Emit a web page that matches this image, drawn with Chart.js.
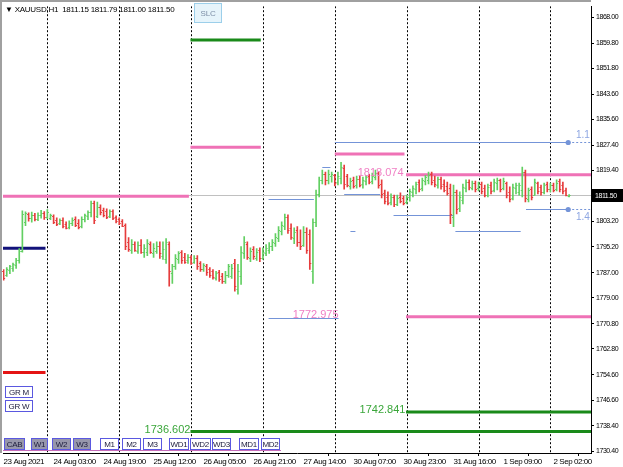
<!DOCTYPE html>
<html>
<head>
<meta charset="utf-8">
<script src="https://cdn.jsdelivr.net/npm/chart.js@4.4.1/dist/chart.umd.min.js"></script>
<style>
html, body { margin: 0; padding: 0; background: #fff; }
#wrap { width: 623px; height: 467px; }
</style>
</head>
<body>
<div id="wrap"><canvas id="chart" width="623" height="467"></canvas></div>
<script>
// XAUUSD H1 bars, 23 Aug 10:00 .. 2 Sep 07:00
const opens = [
  1787.4,1786.4,1787.8,1788.6,1789.5,1791.0,1794.0,1803.0,1805.6,1804.2,
  1805.4,1804.0,1805.2,1806.0,1804.6,1804.4,1805.0,1803.8,1802.8,1803.8,
  1802.5,1801.6,1802.8,1804.1,1802.8,1801.9,1804.1,1805.0,1806.3,1809.1,
  1805.0,1807.9,1806.9,1806.6,1805.0,1806.6,1804.7,1804.1,1803.4,1802.2,
  1796.8,1794.3,1796.2,1794.0,1795.9,1793.4,1793.7,1796.2,1793.1,1794.0,
  1795.6,1792.4,1791.2,1796.2,1786.8,1789.0,1791.2,1793.4,1792.1,1790.9,
  1792.1,1790.5,1791.8,1789.9,1788.0,1789.0,1788.0,1787.4,1785.2,1787.1,
  1785.8,1784.2,1786.4,1785.8,1789.9,1781.7,1785.8,1793.1,1796.2,1791.8,
  1794.6,1791.8,1794.3,1791.8,1793.1,1794.3,1795.3,1796.5,1798.1,1800.3,
  1801.9,1804.7,1801.2,1798.1,1800.6,1796.8,1795.9,1800.0,1799.4,1787.4,
  1803.1,1812.0,1816.4,1818.2,1816.4,1817.6,1817.9,1815.7,1817.0,1820.1,
  1817.6,1814.5,1816.4,1814.8,1816.7,1815.1,1816.0,1817.6,1816.0,1817.3,
  1818.6,1815.1,1812.3,1811.0,1809.4,1811.0,1808.8,1811.0,1810.7,1809.4,
  1811.0,1812.6,1813.5,1815.7,1813.8,1816.0,1816.4,1818.2,1816.4,1814.8,
  1816.7,1815.1,1814.5,1813.8,1804.7,1812.6,1807.5,1810.1,1813.8,1815.7,
  1813.8,1815.4,1813.8,1815.1,1813.8,1811.6,1814.8,1813.2,1815.4,1816.4,
  1813.8,1815.4,1812.6,1810.7,1813.8,1812.6,1813.2,1818.9,1810.4,1813.5,
  1811.6,1815.4,1814.2,1812.6,1815.1,1813.5,1814.8,1813.5,1816.0,1814.8,
  1813.2,1811.15
];
const highs = [
  1788.0,1788.6,1789.3,1790.0,1791.5,1794.6,1806.6,1806.3,1806.0,1806.2,
  1805.8,1806.0,1806.8,1806.4,1807.0,1805.6,1805.3,1804.4,1804.1,1804.4,
  1803.1,1803.4,1804.4,1804.7,1803.8,1804.7,1805.6,1806.6,1809.7,1809.7,
  1809.4,1808.5,1807.5,1807.2,1806.9,1806.9,1805.0,1804.4,1803.8,1802.5,
  1798.1,1797.5,1796.8,1796.8,1797.5,1795.9,1797.5,1796.8,1796.2,1796.8,
  1796.8,1796.8,1797.8,1796.8,1789.6,1792.7,1793.7,1794.0,1793.1,1792.7,
  1792.4,1792.4,1792.4,1790.5,1789.9,1789.6,1788.6,1788.0,1787.4,1787.7,
  1786.8,1787.4,1789.6,1789.6,1791.2,1789.6,1795.3,1798.4,1796.8,1794.9,
  1795.3,1794.6,1794.9,1794.9,1795.9,1796.5,1797.5,1799.4,1801.6,1803.1,
  1805.6,1805.3,1802.5,1801.2,1801.6,1800.6,1801.6,1801.2,1800.6,1804.1,
  1813.2,1817.3,1819.5,1818.9,1819.5,1818.9,1818.2,1818.9,1822.0,1821.1,
  1818.2,1817.0,1817.3,1817.6,1817.6,1817.3,1817.9,1818.2,1818.6,1819.5,
  1818.9,1816.4,1813.2,1812.6,1812.0,1811.6,1811.6,1812.3,1811.3,1811.6,
  1813.5,1814.5,1815.7,1816.4,1817.0,1817.9,1818.9,1818.9,1817.6,1817.3,
  1817.3,1816.4,1815.7,1815.1,1814.8,1813.2,1812.6,1815.1,1816.4,1816.4,
  1816.0,1816.0,1815.7,1815.7,1814.8,1815.1,1815.7,1816.7,1817.0,1816.7,
  1817.0,1815.7,1814.2,1815.1,1815.4,1815.4,1820.5,1819.5,1813.8,1814.2,
  1816.7,1815.7,1814.8,1815.4,1815.7,1815.4,1815.4,1816.4,1816.7,1815.7,
  1813.8,1811.79
];
const lows = [
  1784.6,1785.8,1786.7,1787.4,1788.3,1790.0,1793.5,1801.9,1803.3,1803.0,
  1803.4,1803.5,1804.3,1803.9,1804.0,1803.8,1802.5,1801.9,1802.2,1801.2,
  1800.9,1800.9,1801.9,1801.6,1800.9,1801.2,1803.1,1803.8,1804.7,1802.5,
  1804.4,1805.3,1804.7,1804.1,1804.4,1803.8,1802.8,1802.2,1801.6,1794.3,
  1793.7,1793.1,1793.7,1793.1,1793.1,1791.8,1792.4,1793.1,1791.8,1793.1,
  1791.5,1791.2,1789.9,1782.7,1783.6,1788.0,1789.9,1789.9,1789.9,1789.9,
  1789.6,1789.9,1788.0,1787.4,1787.4,1786.1,1785.5,1784.9,1784.6,1784.2,
  1783.6,1783.6,1785.5,1785.2,1781.1,1780.2,1783.3,1791.5,1791.2,1790.5,
  1791.2,1790.9,1790.5,1791.2,1792.4,1793.1,1794.0,1795.3,1796.8,1799.0,
  1800.6,1799.4,1797.5,1796.2,1795.3,1794.3,1795.3,1793.1,1788.0,1783.6,
  1801.6,1811.0,1815.1,1814.8,1815.1,1815.7,1814.5,1814.8,1815.1,1813.5,
  1814.2,1813.5,1813.8,1813.8,1814.2,1813.8,1814.8,1815.1,1815.1,1816.4,
  1813.8,1810.7,1808.8,1808.5,1808.5,1807.9,1808.2,1809.1,1808.5,1808.8,
  1809.7,1811.0,1812.0,1812.6,1812.9,1814.8,1815.1,1814.8,1814.2,1813.8,
  1813.5,1812.6,1811.6,1802.5,1801.6,1805.6,1806.3,1808.8,1812.6,1813.2,
  1813.2,1812.6,1812.9,1812.0,1811.0,1811.0,1812.0,1812.6,1813.2,1812.6,
  1813.2,1810.7,1809.4,1810.1,1812.0,1811.6,1811.0,1809.4,1809.4,1810.1,
  1811.6,1812.0,1811.6,1812.0,1812.6,1812.6,1812.6,1812.9,1812.6,1812.0,
  1811.3,1811.00
];
const closes = [
  1785.2,1788.0,1789.0,1789.6,1791.0,1794.0,1805.5,1805.8,1804.2,1805.4,
  1804.0,1805.2,1806.0,1804.6,1806.3,1805.3,1803.1,1802.5,1803.8,1801.9,
  1801.2,1802.8,1803.8,1802.2,1801.6,1804.1,1805.3,1806.3,1809.1,1803.8,
  1807.9,1806.3,1805.3,1804.7,1806.6,1804.4,1803.4,1802.8,1801.9,1795.3,
  1794.6,1796.2,1794.3,1795.9,1793.7,1794.9,1796.5,1793.7,1794.9,1795.6,
  1793.1,1794.6,1796.8,1787.4,1789.0,1791.8,1793.1,1790.9,1790.5,1792.1,
  1790.2,1791.8,1789.0,1788.0,1789.3,1787.1,1786.1,1785.5,1786.8,1784.9,
  1784.2,1786.4,1789.0,1788.6,1782.7,1787.4,1793.7,1796.8,1792.1,1794.0,
  1792.4,1793.7,1791.8,1793.4,1794.9,1795.6,1796.8,1798.4,1800.6,1802.2,
  1804.7,1800.6,1798.4,1800.0,1796.8,1795.3,1800.0,1794.3,1789.9,1803.1,
  1812.0,1816.4,1818.2,1816.4,1818.2,1818.2,1815.4,1817.6,1820.5,1815.1,
  1814.8,1816.0,1814.5,1816.7,1814.8,1816.4,1817.3,1815.7,1817.6,1818.6,
  1814.8,1812.0,1809.7,1809.1,1811.0,1808.8,1810.7,1809.7,1809.1,1811.0,
  1812.9,1813.8,1815.1,1813.5,1816.4,1817.3,1817.9,1815.7,1815.1,1816.7,
  1814.5,1813.2,1812.3,1805.6,1812.6,1807.2,1811.0,1814.2,1815.7,1814.2,
  1815.4,1813.5,1815.1,1812.9,1811.6,1814.2,1812.9,1815.7,1816.4,1813.5,
  1816.0,1811.6,1810.4,1814.2,1814.8,1814.8,1818.9,1810.7,1813.2,1811.0,
  1815.7,1812.9,1812.6,1814.8,1813.5,1814.8,1813.2,1815.4,1813.5,1812.9,
  1811.6,1811.50
];

const xTickIndex = [0, 16, 32, 48, 64, 80, 96, 112, 128, 144, 160, 176];
const xTickLabels = ['23 Aug 2021', '24 Aug 03:00', '24 Aug 19:00', '25 Aug 12:00', '26 Aug 05:00',
  '26 Aug 21:00', '27 Aug 14:00', '30 Aug 07:00', '30 Aug 23:00', '31 Aug 16:00', '1 Sep 09:00', '2 Sep 02:00'];
const yTickValues = [1868.00, 1859.80, 1851.80, 1843.60, 1835.60, 1827.40, 1819.40, 1803.20,
  1795.20, 1787.00, 1779.00, 1770.80, 1762.80, 1754.60, 1746.60, 1738.40, 1730.40];
const daySeparators = [14, 37, 60, 83, 106, 129, 152, 175];
const lastPrice = 1811.50;

// horizontal levels: [price, fromBar, toBar, kind]
const levels = [
  [1811.2, -1, 59.3, 'pink'],
  [1794.7, -1, 13.4, 'navy'],
  [1755.3, -1, 13.4, 'red'],
  [1860.8, 59.8, 82.3, 'green'],
  [1826.8, 59.8, 82.3, 'pink'],
  [1824.6, 106.0, 128.3, 'pink'],
  [1818.074, 128.8, 188, 'pink'],
  [1772.975, 128.8, 188, 'pink'],
  [1742.841, 128.8, 188, 'green'],
  [1736.602, 59.8, 188, 'green']
];
// thin blue lines: [price, fromBar, toBar, hasDot]
const blueLines = [
  [1828.3, 106.0, 180.7, true],
  [1807.2, 167.2, 180.7, true],
  [1810.4, 84.8, 99.3, false],
  [1772.7, 84.8, 107.2, false],
  [1805.3, 124.8, 143.8, false],
  [1800.3, 144.6, 165.5, false],
  [1820.5, 102.0, 104.6, false],
  [1800.3, 111.0, 112.6, false],
  [1812.0, 109.0, 120.5, false]
];
const blueLabels = [['1.1', 1828.3, -4], ['1.4', 1807.2, 11]];
// level price labels: [text, price, rightBar, kind]
const levelLabels = [
  ['1818.074', 1818.074, 128.0, 'pink'],
  ['1772.975', 1772.975, 107.2, 'pink'],
  ['1736.602', 1736.602, 59.8, 'green'],
  ['1742.841', 1742.841, 128.6, 'green']
];

const UP = '#62cf62', DOWN = '#e63c3c';
const levelColors = { pink: '#ef72b6', navy: '#12127a', red: '#e41414', green: '#1a8a1a' };
const labelColors = { pink: '#f07ec4', green: '#3aa63a' };
const BLUE = '#7494d8';
const SANS = "'Liberation Sans', Arial, sans-serif";

const bars = highs.map((h, i) => ({ x: i, y: [lows[i], h] }));

const mtPlugin = {
  id: 'mt',
  beforeDraw(chart) {
    // MT4 terminal text is tight; squeeze the axis labels a little
    chart.ctx.letterSpacing = '-0.45px';
  },
  beforeDatasetsDraw(chart) {
    const { ctx, chartArea: a, scales: { x, y } } = chart;
    ctx.save();
    ctx.beginPath();
    ctx.rect(a.left, a.top, a.right - a.left, a.bottom - a.top);
    ctx.clip();
    // day separators
    ctx.strokeStyle = '#000';
    ctx.lineWidth = 1;
    ctx.setLineDash([2, 2]);
    daySeparators.forEach(d => {
      const px = Math.round(x.getPixelForValue(d)) + 0.5;
      ctx.beginPath(); ctx.moveTo(px, a.top); ctx.lineTo(px, a.bottom); ctx.stroke();
    });
    ctx.setLineDash([]);
    // last price line
    const py = Math.round(y.getPixelForValue(lastPrice)) + 0.5;
    ctx.strokeStyle = '#c0c0c0';
    ctx.beginPath(); ctx.moveTo(a.left, py); ctx.lineTo(a.right, py); ctx.stroke();
    // levels
    levels.forEach(([p, f, t, k]) => {
      const yy = y.getPixelForValue(p);
      ctx.strokeStyle = levelColors[k];
      ctx.lineWidth = 3;
      ctx.beginPath(); ctx.moveTo(x.getPixelForValue(f), yy); ctx.lineTo(x.getPixelForValue(t), yy); ctx.stroke();
    });
    // blue lines
    ctx.strokeStyle = BLUE;
    ctx.fillStyle = BLUE;
    ctx.lineWidth = 1;
    blueLines.forEach(([p, f, t, dot]) => {
      const yy = Math.round(y.getPixelForValue(p)) + 0.5;
      const x2 = x.getPixelForValue(t);
      ctx.beginPath(); ctx.moveTo(x.getPixelForValue(f), yy); ctx.lineTo(x2, yy); ctx.stroke();
      if (dot) {
        ctx.setLineDash([2, 2]);
        ctx.beginPath(); ctx.moveTo(x2, yy); ctx.lineTo(a.right, yy); ctx.stroke();
        ctx.setLineDash([]);
        ctx.beginPath(); ctx.arc(x2, yy, 2.6, 0, Math.PI * 2); ctx.fill();
      }
    });
    ctx.restore();
  },
  afterDatasetsDraw(chart) {
    const { ctx, scales: { x, y } } = chart;
    ctx.save();
    ctx.lineWidth = 1;
    opens.forEach((o, i) => {
      const px = x.getPixelForValue(i);
      ctx.strokeStyle = closes[i] >= o ? UP : DOWN;
      const yo = Math.round(y.getPixelForValue(o)) + 0.5;
      const yc = Math.round(y.getPixelForValue(closes[i])) + 0.5;
      ctx.beginPath();
      ctx.moveTo(px - 1.5, yo); ctx.lineTo(px, yo);
      ctx.moveTo(px, yc); ctx.lineTo(px + 1.5, yc);
      ctx.stroke();
    });
    ctx.restore();
  },
  afterDraw(chart) {
    const { ctx, chartArea: a, scales: { x, y } } = chart;
    ctx.save();
    // frame
    ctx.fillStyle = '#a0a0a0';
    ctx.fillRect(0, 0, 2, a.bottom);
    ctx.fillRect(0, 0, a.right, 2);
    // level labels
    ctx.letterSpacing = '0px';
    ctx.font = '11px ' + SANS;
    ctx.textAlign = 'right';
    ctx.textBaseline = 'alphabetic';
    levelLabels.forEach(([txt, p, b, k]) => {
      ctx.fillStyle = labelColors[k];
      ctx.fillText(txt, x.getPixelForValue(b), y.getPixelForValue(p) + 1);
    });
    ctx.textAlign = 'left';
    ctx.font = '10px ' + SANS;
    ctx.fillStyle = '#8ea6e2';
    blueLabels.forEach(([txt, p, dy]) => {
      ctx.fillText(txt, x.getPixelForValue(183.2), y.getPixelForValue(p) + dy);
    });
    // header
    ctx.letterSpacing = '-0.25px';
    ctx.fillStyle = '#000';
    ctx.font = '8px ' + SANS;
    ctx.fillText('\u25BC XAUUSD,H1  1811.15 1811.79 1811.00 1811.50', 5, 12);
    // SLC button
    ctx.fillStyle = '#e6f4fb';
    ctx.fillRect(194.5, 3.5, 27, 19);
    ctx.strokeStyle = '#9ccfea';
    ctx.strokeRect(194.5, 3.5, 27, 19);
    ctx.fillStyle = '#7d8ea6';
    ctx.textAlign = 'center';
    ctx.fillText('SLC', 208, 16);
    // buttons
    const btn = (t, bx, by, w, fill) => {
      ctx.fillStyle = fill;
      ctx.fillRect(bx + 0.5, by + 0.5, w, 11);
      ctx.strokeStyle = '#5a58e0';
      ctx.strokeRect(bx + 0.5, by + 0.5, w, 11);
      ctx.fillStyle = '#202040';
      ctx.fillText(t, bx + w / 2 + 0.5, by + 9);
    };
    btn('GR M', 5, 386, 27, '#fff');
    btn('GR W', 5, 400, 27, '#fff');
    [['CAB', 4, 20], ['W1', 31, 16], ['W2', 52, 18], ['W3', 73, 17]].forEach(([t, bx, w]) => btn(t, bx, 438, w, '#9797ab'));
    [['M1', 100, 18], ['M2', 122, 18], ['M3', 143, 18], ['WD1', 169, 19], ['WD2', 190, 20],
     ['WD3', 212, 18], ['MD1', 239, 19], ['MD2', 261, 18]].forEach(([t, bx, w]) => btn(t, bx, 438, w, '#fff'));
    ctx.strokeStyle = '#c46cb8';
    ctx.beginPath(); ctx.moveTo(3, 450.5); ctx.lineTo(281, 450.5); ctx.stroke();
    // last price box
    const py = Math.round(y.getPixelForValue(lastPrice));
    ctx.fillStyle = '#000';
    ctx.fillRect(a.right + 1, py - 6, 32, 13);
    ctx.fillStyle = '#fff';
    ctx.textAlign = 'left';
    ctx.letterSpacing = '-0.45px';
    ctx.font = '7px ' + SANS;
    ctx.fillText('1811.50', a.right + 4, py + 3);
    ctx.restore();
  }
};

Chart.defaults.font.family = SANS;
Chart.defaults.font.size = 8;
Chart.defaults.color = '#000';

new Chart(document.getElementById('chart'), {
  type: 'bar',
  data: {
    datasets: [{
      data: bars,
      backgroundColor: opens.map((o, i) => closes[i] >= o ? UP : DOWN),
      borderWidth: 0,
      barThickness: 1,
      grouped: false
    }]
  },
  options: {
    responsive: false,
    animation: false,
    devicePixelRatio: 1,
    events: [],
    layout: { padding: { left: 3, top: 3, right: 0, bottom: 0 } },
    plugins: { legend: { display: false }, tooltip: { enabled: false } },
    scales: {
      x: {
        type: 'linear',
        offset: false,
        min: -0.2,
        max: 188,
        afterBuildTicks: s => { s.ticks = xTickIndex.map(v => ({ value: v })); },
        afterFit: s => { s.height = 14; },
        ticks: {
          autoSkip: false,
          maxRotation: 0,
          align: 'start',
          padding: 1,
          callback: v => xTickLabels[xTickIndex.indexOf(v)]
        },
        grid: { display: true, drawOnChartArea: false, drawTicks: true, tickLength: 3, color: '#000' },
        border: { display: true, color: '#000' }
      },
      y: {
        position: 'right',
        min: 1729.8,
        max: 1871.5,
        afterBuildTicks: s => { s.ticks = yTickValues.map(v => ({ value: v })); },
        afterFit: s => { s.width = 32; },
        ticks: { autoSkip: false, padding: 2, font: { size: 7 }, callback: v => v.toFixed(2) },
        grid: { display: true, drawOnChartArea: false, drawTicks: true, tickLength: 3, color: '#000' },
        border: { display: true, color: '#000' }
      }
    }
  },
  plugins: [mtPlugin]
});
</script>
</body>
</html>
